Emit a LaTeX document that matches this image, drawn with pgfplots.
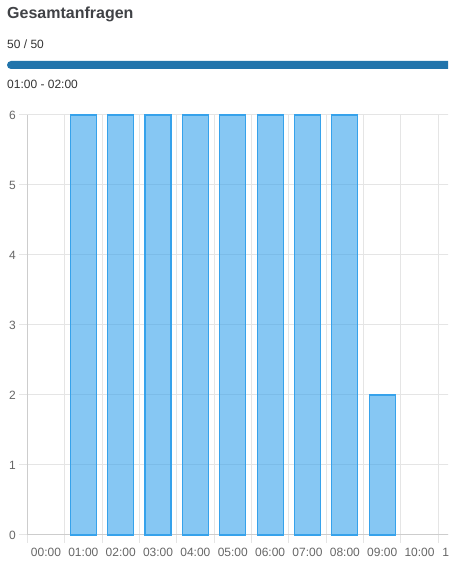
\documentclass[border=0pt]{standalone}
\usepackage{pgfplots}
\pgfplotsset{compat=1.18}
\usepackage{fontspec}
\setmainfont{Liberation Sans}
\definecolor{barline}{RGB}{54,162,235}
\definecolor{prog}{RGB}{33,116,171}
\definecolor{gridc}{RGB}{229,229,229}
\definecolor{axisc}{RGB}{205,205,205}
\definecolor{ticktext}{RGB}{102,102,102}
\definecolor{titletext}{RGB}{64,66,70}
\definecolor{subtext}{RGB}{51,51,51}
\begin{document}
\begin{tikzpicture}[x=1pt,y=1pt]
\useasboundingbox (0,0) rectangle (448,563);
\clip (0,0) rectangle (448,563);
\node[anchor=base west, inner sep=0pt, text=titletext, font=\fontsize{16}{18}\selectfont\bfseries] at (7,544.5) {Gesamtanfragen};
\node[anchor=base west, inner sep=0pt, text=subtext, font=\fontsize{12}{14}\selectfont] at (7,514.7) {50 / 50};
\fill[prog, rounded corners=4pt] (7,494) rectangle (480,502);
\node[anchor=base west, inner sep=0pt, text=subtext, font=\fontsize{12}{14}\selectfont] at (7,474) {01:00 - 02:00};
\begin{axis}[
  at={(27.3pt,28pt)}, anchor=south west,
  scale only axis, width=448.3pt, height=420pt,
  xmin=-0.5, xmax=11.5, ymin=0, ymax=6,
  axis x line=bottom, axis y line=left,
  axis line style={-, draw=axisc, line width=1pt},
  clip=false,
  tick align=outside, major tick length=8pt,
  tick style={gridc, line width=1pt},
  grid style={gridc, line width=1pt},
  ytick={0,1,2,3,4,5,6}, ymajorgrids,
  xtick={-0.5,0.5,1.5,2.5,3.5,4.5,5.5,6.5,7.5,8.5,9.5,10.5,11.5}, xmajorgrids,
  xticklabels={},
  extra x ticks={0,1,2,3,4,5,6,7,8,9,10,11},
  extra x tick labels={00:00,01:00,02:00,03:00,04:00,05:00,06:00,07:00,08:00,09:00,10:00,11:00},
  extra x tick style={grid=none, major tick length=0pt},
  /pgf/number format/assume math mode=true,
  yticklabel style={font=\fontsize{12}{14}\selectfont, text=ticktext},
  xticklabel style={font=\fontsize{12}{14}\selectfont, text=ticktext, yshift=-10pt},
]
\addplot[ybar, bar width=26pt, fill=barline, fill opacity=0.6, draw=barline, line width=1.2pt]
  coordinates {(1,6) (2,6) (3,6) (4,6) (5,6) (6,6) (7,6) (8,6) (9,2)};
\end{axis}
\end{tikzpicture}
\end{document}
